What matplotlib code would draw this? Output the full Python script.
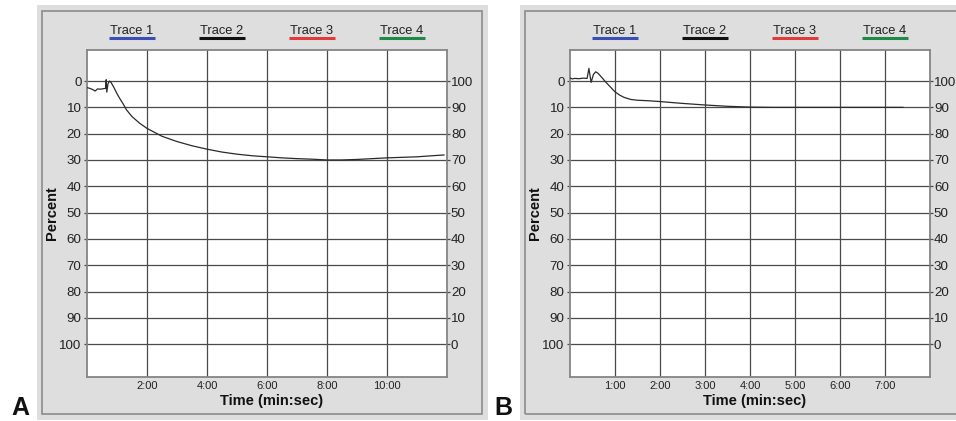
import matplotlib
matplotlib.use("Agg")
import matplotlib.pyplot as plt
from matplotlib.patches import Rectangle
from matplotlib.ticker import FuncFormatter, FixedLocator

plt.rcParams['font.family'] = ['Liberation Sans', 'DejaVu Sans']

# ---- data (time in minutes, value in percent) ----
time_a = [0, 0.1, 0.2, 0.27, 0.35, 0.45, 0.55, 0.62, 0.64, 0.66, 0.7, 0.75, 0.8, 0.9,
          1.0, 1.1, 1.2, 1.32, 1.5, 1.75, 2.0, 2.5, 3.0, 3.5, 4.0, 4.5, 5.0, 5.5, 6.0,
          6.5, 7.0, 7.5, 8.0, 8.5, 9.0, 9.5, 10.0, 10.5, 11.0, 11.5, 11.9]
pct_a = [2.5, 2.8, 3.3, 3.8, 3.0, 3.1, 2.9, 2.8, -0.5, 4.2, 1.0, 0.0, 0.5, 2.5,
         4.8, 6.8, 8.6, 11.0, 13.5, 16.0, 18.0, 21.0, 23.0, 24.6, 25.9, 27.0, 27.8, 28.4, 28.8,
         29.2, 29.5, 29.7, 30.0, 30.0, 29.8, 29.5, 29.2, 29.0, 28.8, 28.4, 28.1]

time_b = [0, 0.05, 0.1, 0.2, 0.3, 0.38, 0.42, 0.45, 0.47, 0.52, 0.57, 0.62, 0.7, 0.8,
          0.9, 1.0, 1.1, 1.2, 1.35, 1.5, 1.75, 2.0, 2.5, 3.0, 3.5, 4.0, 4.5, 5.0, 6.0,
          7.0, 7.4]
pct_b = [-1.2, -0.8, -1.0, -0.9, -1.1, -1.0, -4.8, -1.5, 0.5, -2.5, -3.5, -3.0, -1.5, 0.5,
         2.3, 4.1, 5.3, 6.2, 7.0, 7.3, 7.5, 7.8, 8.5, 9.1, 9.6, 9.9, 10.0, 10.0, 10.0,
         10.0, 10.0]

left_ticks = [0, 10, 20, 30, 40, 50, 60, 70, 80, 90, 100]
right_labels = ['100', '90', '80', '70', '60', '50', '40', '30', '20', '10', '0']
xticks_a = [2, 4, 6, 8, 10]
xticks_b = [1, 2, 3, 4, 5, 6, 7]
trace_names = ['Trace 1', 'Trace 2', 'Trace 3', 'Trace 4']
trace_colors = ['#3a4fb5', '#111111', '#e23a3a', '#1d8a45']

W, H = 956, 421
fig = plt.figure(figsize=(W / 100, H / 100), dpi=100)
fig.patch.set_facecolor('white')


def fx(px):
    return px / W


def fy(py):
    return (H - py) / H


def panel_box(x0, x1, y0=5, y1=420):
    fig.add_artist(Rectangle((fx(x0), fy(y1)), fx(x1) - fx(x0), fy(y0) - fy(y1),
                             transform=fig.transFigure, facecolor='#dedede',
                             edgecolor='none', zorder=0))
    fig.add_artist(Rectangle((fx(x0 + 5), fy(y1 - 6)), fx(x1 - 6) - fx(x0 + 5),
                             fy(y0 + 6) - fy(y1 - 6),
                             transform=fig.transFigure, facecolor='none',
                             edgecolor='#8c8c8c', lw=1.2, zorder=0.5))


panel_box(37, 488)
panel_box(520, 970)

grid_c = '#4a4a4a'


def make_panel(x_left, xmax, xticks, t, v, letter, letter_x):
    ax = fig.add_axes([fx(x_left), fy(377), 360 / W, 327 / H])
    ax.set_facecolor('white')
    ax.set_xlim(0, xmax)
    ax.set_ylim(112.5, -11.8)
    ax.plot(t, v, color='#2a2a2a', lw=0.9, zorder=3)
    ax.xaxis.set_major_locator(FixedLocator(xticks))
    ax.xaxis.set_major_formatter(FuncFormatter(lambda m, p: f"{int(m)}:00"))
    ax.set_yticks(left_ticks)
    ax.grid(True, color=grid_c, lw=0.9, zorder=1)
    for s in ax.spines.values():
        s.set_color('#858585')
        s.set_linewidth(1.3)
    ax.tick_params(axis='y', length=2.5, width=0.9, color=grid_c, pad=1.5,
                   labelsize=9.6, labelcolor='#222222')
    ax.tick_params(axis='x', length=0, pad=3, labelsize=8, labelcolor='#222222')
    ax.set_xlabel('Time (min:sec)', fontsize=10.5, fontweight='bold', color='#111111')
    ax.xaxis.set_label_coords(0.514, -0.052)
    ax.set_ylabel('Percent', fontsize=10.5, fontweight='bold', color='#111111')
    ax.yaxis.set_label_coords(-0.078, 0.5)

    ax2 = ax.twinx()
    ax2.set_ylim(112.5, -11.8)
    ax2.set_yticks(left_ticks)
    ax2.set_yticklabels(right_labels)
    ax2.tick_params(axis='y', length=2.5, width=0.9, color=grid_c, pad=0.3,
                    labelsize=9.6, labelcolor='#222222')
    for s in ax2.spines.values():
        s.set_visible(False)

    for i, (name, col) in enumerate(zip(trace_names, trace_colors)):
        cx = 0.125 + 0.25 * i
        ax.text(cx, 1.058, name, transform=ax.transAxes, ha='center', va='center',
                fontsize=9.3, color='#222222')
        ax.plot([cx - 0.064, cx + 0.064], [1.036, 1.036], transform=ax.transAxes,
                color=col, lw=2.2, clip_on=False, solid_capstyle='butt')

    fig.text(fx(letter_x), fy(420), letter, fontsize=18, fontweight='bold',
             ha='left', va='bottom', color='#111111')
    return ax


make_panel(87, 12, xticks_a, time_a, pct_a, 'A', 11)
make_panel(570, 8, xticks_b, time_b, pct_b, 'B', 494)

fig.savefig('out.png', dpi=100)
